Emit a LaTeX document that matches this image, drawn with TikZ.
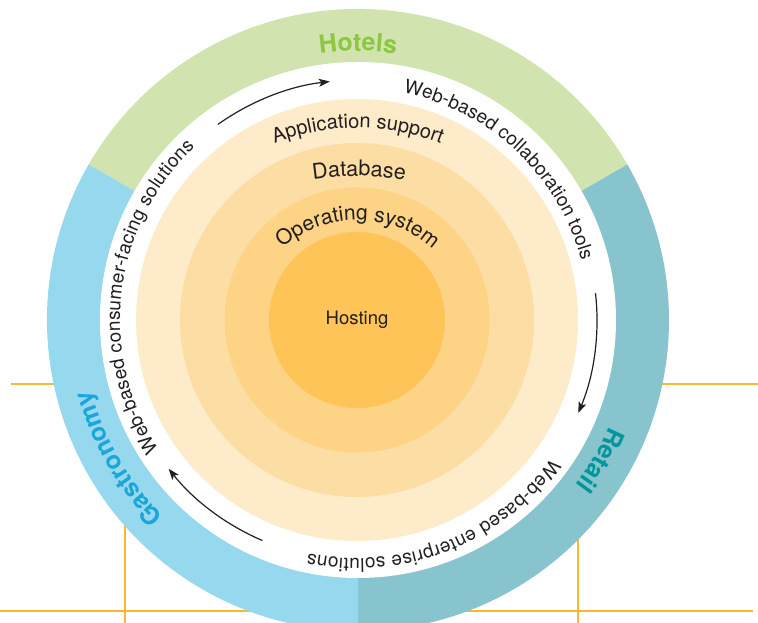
\documentclass[tikz,border=0pt]{standalone}
\usepackage{fontspec}
\setmainfont{TeX Gyre Heros}
\usetikzlibrary{decorations.text,arrows.meta}
\definecolor{hotelband}{HTML}{D1E3AF}
\definecolor{hoteltext}{HTML}{8DC63F}
\definecolor{gastroband}{HTML}{96D8EE}
\definecolor{gastrotext}{HTML}{1BA6D9}
\definecolor{retailband}{HTML}{88C4CD}
\definecolor{retailtext}{HTML}{00969C}
\definecolor{ringA}{HTML}{FDEBC9}
\definecolor{ringB}{HTML}{FCDDA4}
\definecolor{ringC}{HTML}{FDD386}
\definecolor{ringD}{HTML}{FEC457}
\definecolor{inkdark}{HTML}{231F20}
\definecolor{gridorange}{HTML}{FBB733}
\begin{document}
\begin{tikzpicture}[x=1pt,y=1pt,
  gridline/.style={gridorange,line width=2.2pt},
  cyclearrow/.style={inkdark,line width=1.2pt,-{Stealth[length=11pt,width=8pt,inset=2.5pt]}},
  bandtext/.style={decorate,decoration={text along path,text color=inkdark,text align={fit to path},text={|\fontsize{19}{22}\selectfont|#1}}},
  layertext/.style 2 args={decorate,decoration={text along path,text color=inkdark,text align={fit to path},text={|\fontsize{#1}{24}\selectfont|#2}}},
  ringlabel/.style 2 args={decorate,decoration={text along path,text color=#1,text align=center,text={|\bfseries\fontsize{25}{28}\selectfont|#2}}}
]
\fill[white] (0,0) rectangle (758,623);
\useasboundingbox (0,0) rectangle (758,623);
\coordinate (C) at (357,303);
\coordinate (R) at (358,303);
% grid lines behind
\coordinate (g1) at (11,239);
\coordinate (g2) at (758,239);
\coordinate (g3) at (0,12.3);
\coordinate (g4) at (753,12.3);
\coordinate (g5) at (125,239);
\coordinate (g6) at (125,0);
\coordinate (g7) at (578,239);
\coordinate (g8) at (578,0);
\draw[gridline] (g1) -- (g2);
\draw[gridline] (g3) -- (g4);
\draw[gridline] (g5) -- (g6);
\draw[gridline] (g7) -- (g8);
% outer ring sectors
\fill[hotelband] (R) -- ++(30:311) arc[start angle=30,end angle=150,radius=311] -- cycle;
\fill[gastroband] (R) -- ++(150:311) arc[start angle=150,end angle=270,radius=311] -- cycle;
\fill[retailband] (R) -- ++(-90:311) arc[start angle=-90,end angle=30,radius=311] -- cycle;
\fill[white] (R) circle[radius=258];
% layers
\fill[ringA] (C) circle[radius=221];
\fill[ringB] (C) circle[radius=177];
\fill[ringC] (C) circle[radius=132.5];
\fill[ringD] (C) circle[radius=88];
\node[font=\fontsize{18.5}{20}\selectfont,text=inkdark] (hosting) at (C) {Hosting};
% layer labels
\coordinate (A1) at (357,265);
\coordinate (A2) at (357,147);
\coordinate (A3) at (357,289);
\path[layertext={20}{Application support}] (A1) ++(111:230) arc[start angle=111,end angle=69,radius=230];
\path[layertext={21.5}{Database}] (A2) ++(98.4:300) arc[start angle=98.4,end angle=81.4,radius=300];
\path[layertext={21}{Operating system}] (A3) ++(131:114) arc[start angle=131,end angle=50,radius=114];
% band labels
\path[bandtext={Web-based collaboration tools}] (C) ++(78.5:232) arc[start angle=78.5,end angle=14.8,radius=232];
\path[bandtext={Web-based enterprise solutions}] (C) ++(-35.6:238.5) arc[start angle=-35.6,end angle=-101.8,radius=238.5];
\path[bandtext={Web-based consumer-facing solutions}] (C) ++(213.1:237) arc[start angle=213.1,end angle=133.2,radius=237];
% ring labels
\path[ringlabel={hoteltext}{Hotels}] (R) ++(120:269) arc[start angle=120,end angle=60,radius=269];
\path[ringlabel={gastrotext}{Gastronomy}] (R) ++(240:276) arc[start angle=240,end angle=180,radius=276];
\path[ringlabel={retailtext}{Retail}] (R) ++(0:273) arc[start angle=0,end angle=-60,radius=273];
% cycle arrows
\draw[cyclearrow] (C) ++(125.4:240) arc[start angle=125.4,end angle=96.5,radius=240];
\draw[cyclearrow] (C) ++(6.4:240) arc[start angle=6.4,end angle=-22.8,radius=240];
\draw[cyclearrow] (C) ++(246.8:240) arc[start angle=246.8,end angle=218.3,radius=240];
\end{tikzpicture}
\end{document}
